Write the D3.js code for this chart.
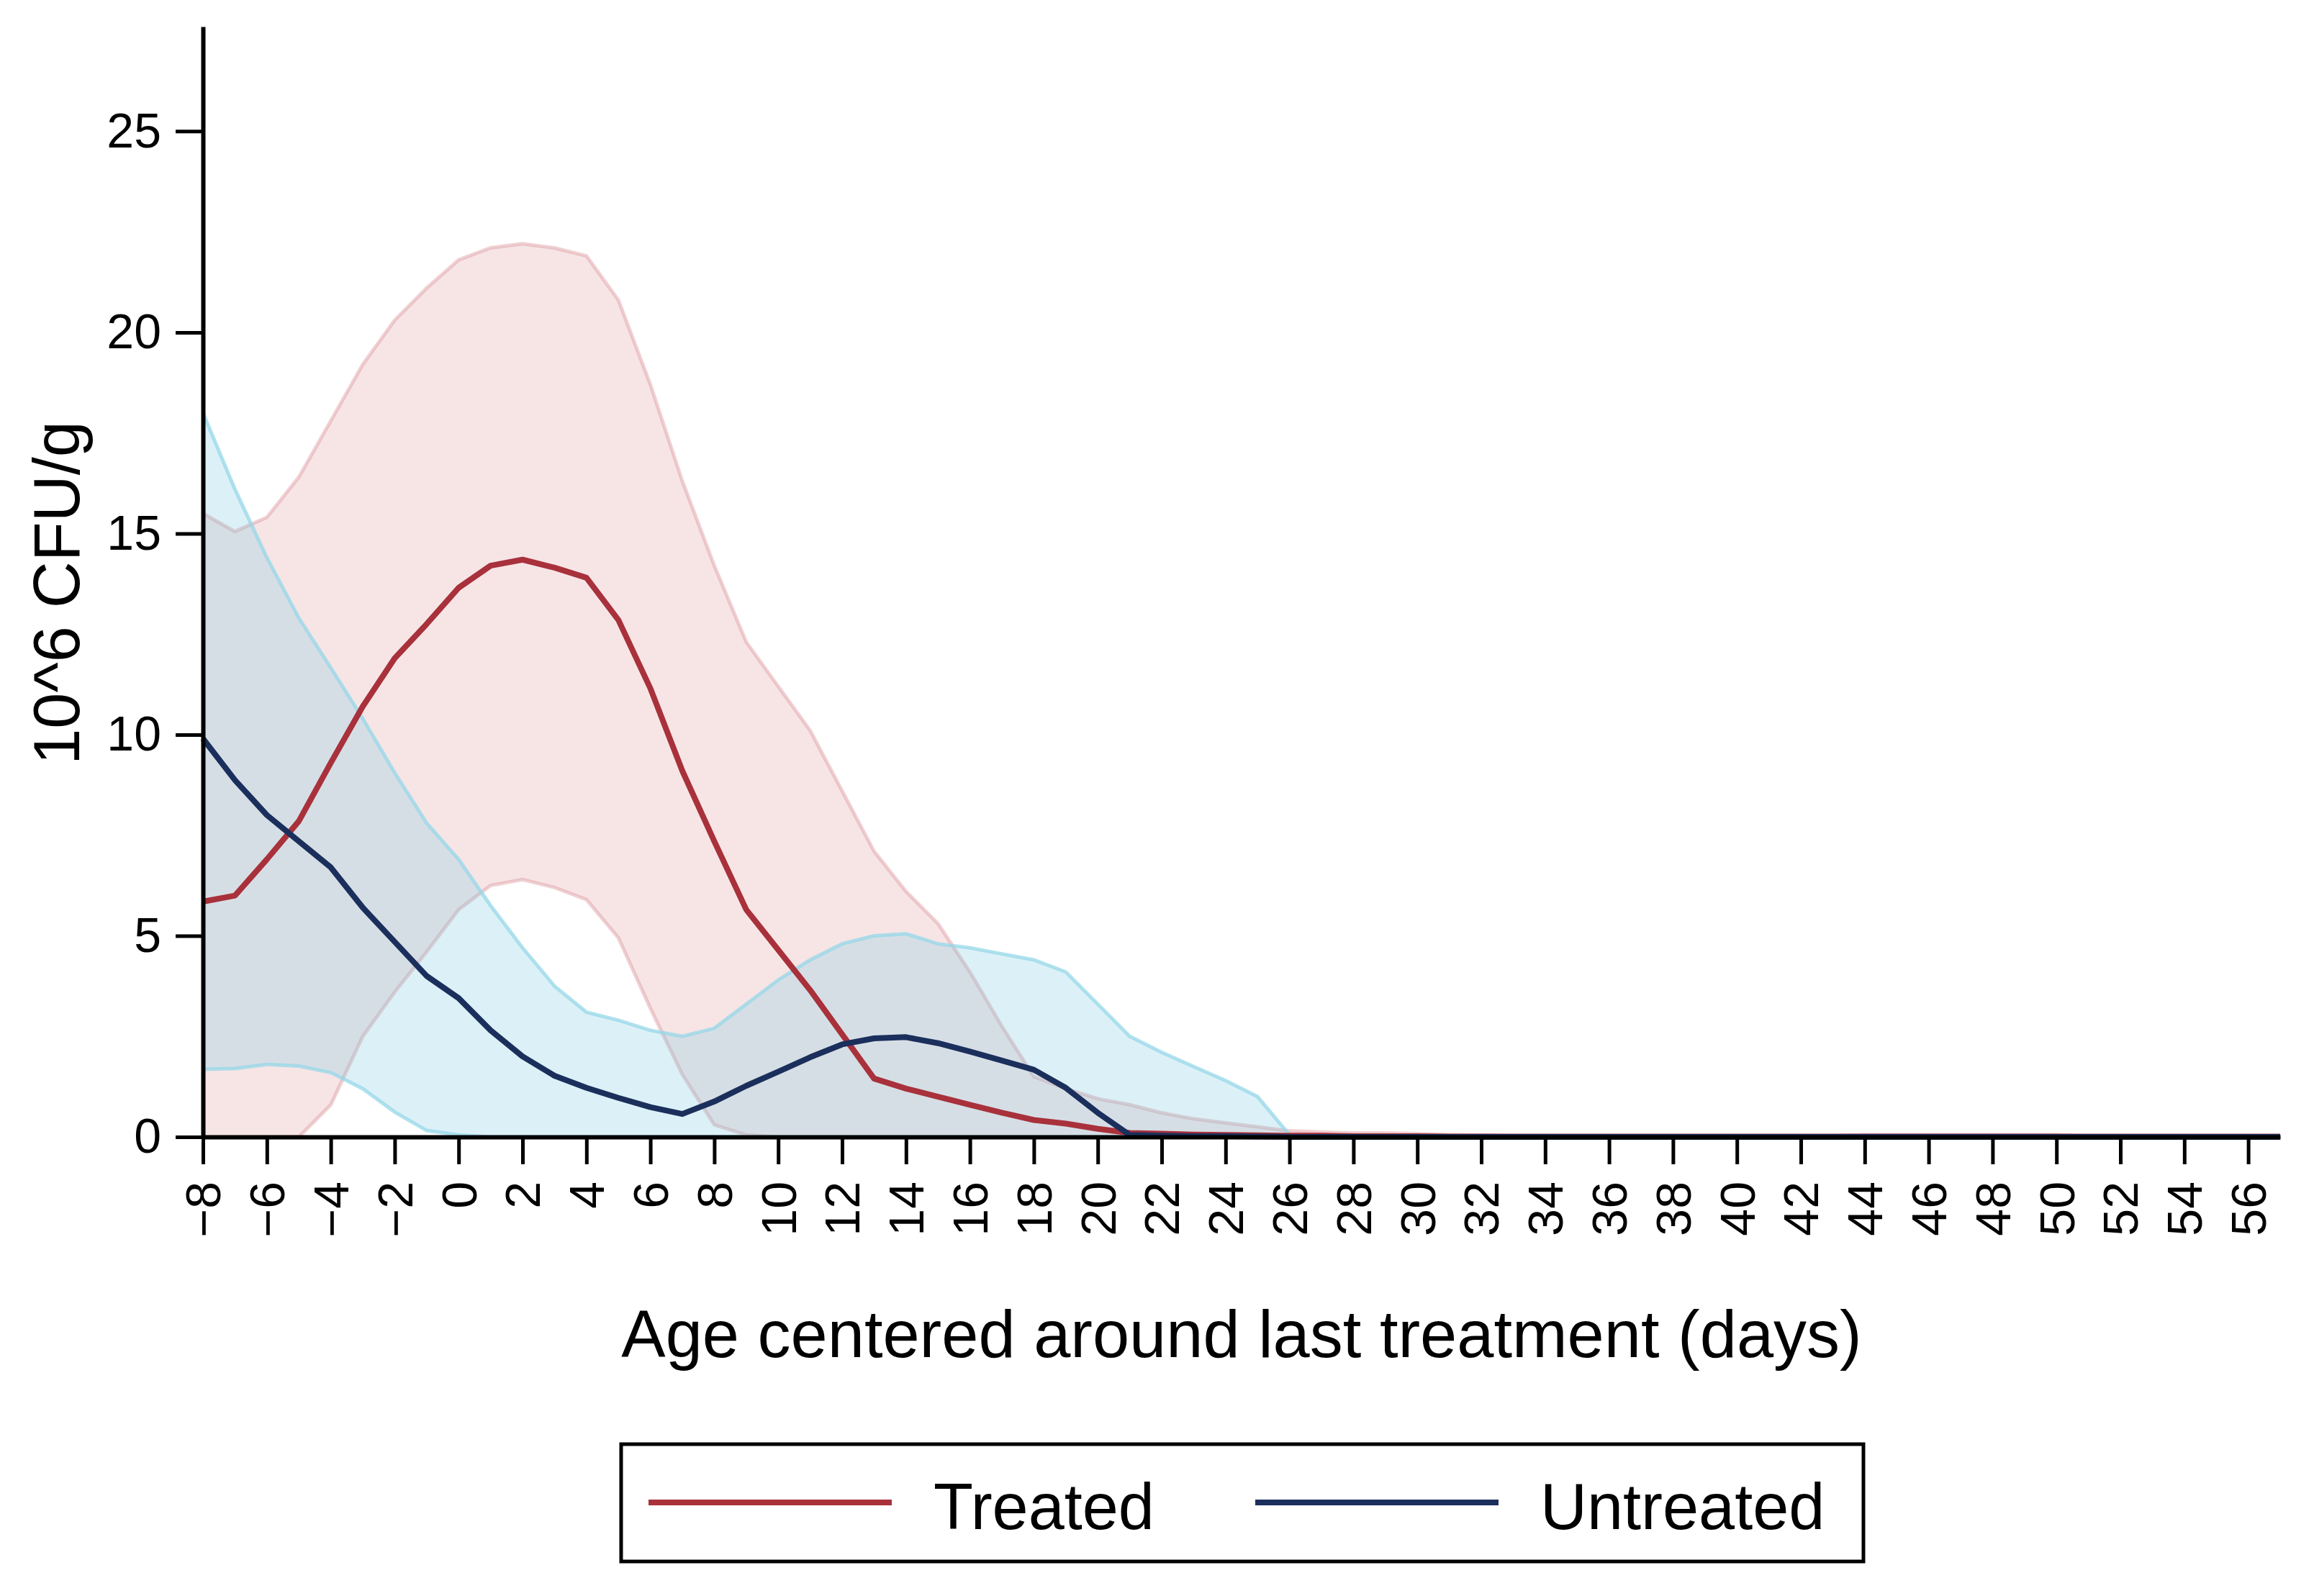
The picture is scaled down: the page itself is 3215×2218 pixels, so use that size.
<!DOCTYPE html>
<html lang="en">
<head>
<meta charset="UTF-8">
<title>CFU by age centered around last treatment</title>
<script src="https://cdn.jsdelivr.net/npm/d3@7/dist/d3.min.js"></script>
<style>
  * { margin: 0; padding: 0; box-sizing: border-box; }
  body { background: #fff; }
  svg { display: block; font-family: 'Liberation Sans', Arial, sans-serif; }
</style>
</head>
<body>
<div id="chart"></div>
<script>
// ─── Data ───────────────────────────────────────────────────────────────────
const days = [-8, -7, -6, -5, -4, -3, -2, -1, 0, 1, 2, 3, 4, 5, 6, 7, 8, 9, 10, 11, 12,
  13, 14, 15, 16, 17, 18, 19, 20, 21, 22, 23, 24, 25, 26, 27, 28, 29, 30, 31, 32, 33, 34,
  35, 36, 37, 38, 39, 40, 41, 42, 43, 44, 45, 46, 47, 48, 49, 50, 51, 52, 53, 54, 55, 56, 57];

const treatedMean = [5.85, 6.0, 6.9, 7.85, 9.3, 10.7, 11.9, 12.75, 13.65, 14.2, 14.35, 14.15,
  13.9, 12.85, 11.15, 9.1, 7.35, 5.65, 4.65, 3.65, 2.55, 1.45, 1.2, 1.0, 0.8, 0.6, 0.42,
  0.33, 0.2, 0.1, 0.08, 0.06, 0.05, 0.04, 0.03, 0.03, 0.02, 0.02, 0.02, 0.01, 0.01, 0.01,
  0.01, 0.01, 0.01, 0.01, 0.01, 0.01, 0.01, 0.01, 0.01, 0.01, 0.01, 0.01, 0.01, 0.01, 0.01,
  0.01, 0.01, 0.01, 0.01, 0.01, 0.01, 0.01, 0.01, 0.01];
const treatedHi = [15.5, 15.05, 15.4, 16.4, 17.8, 19.2, 20.3, 21.1, 21.8, 22.1, 22.2, 22.1,
  21.9, 20.8, 18.7, 16.3, 14.2, 12.3, 11.2, 10.1, 8.6, 7.1, 6.1, 5.3, 4.1, 2.75, 1.5, 1.2,
  0.95, 0.8, 0.6, 0.45, 0.35, 0.25, 0.15, 0.12, 0.1, 0.1, 0.08, 0.06, 0.05, 0.03, 0.03,
  0.03, 0.03, 0.03, 0.03, 0.03, 0.03, 0.03, 0.03, 0.03, 0.06, 0.06, 0.06, 0.06, 0.06, 0.06,
  0.06, 0.02, 0.02, 0.02, 0.02, 0.02, 0.02, 0.02];
const treatedLo = [0, 0, 0, 0, 0.8, 2.5, 3.6, 4.6, 5.65, 6.25, 6.4, 6.2, 5.9, 4.95, 3.2, 1.55,
  0.3, 0.05, 0, 0, 0, 0, 0, 0, 0, 0, 0, 0, 0, 0, 0, 0, 0, 0, 0, 0, 0, 0, 0, 0, 0, 0, 0, 0,
  0, 0, 0, 0, 0, 0, 0, 0, 0, 0, 0, 0, 0, 0, 0, 0, 0, 0, 0, 0, 0, 0];

const untreatedMean = [9.9, 8.87, 8.0, 7.35, 6.7, 5.7, 4.85, 4.0, 3.45, 2.65, 2.0, 1.52, 1.22,
  0.97, 0.74, 0.57, 0.88, 1.27, 1.62, 1.98, 2.3, 2.45, 2.48, 2.33, 2.12, 1.9, 1.67, 1.22,
  0.6, 0.05, 0.03, 0.02, 0.02, 0.01, 0, 0, 0, 0, 0, 0, 0, 0, 0, 0, 0, 0, 0, 0, 0, 0, 0, 0,
  0, 0, 0, 0, 0, 0, 0, 0, 0, 0, 0, 0, 0, 0];
const untreatedHi = [18.0, 16.1, 14.4, 12.9, 11.66, 10.4, 9.05, 7.8, 6.9, 5.75, 4.7, 3.75, 3.1,
  2.9, 2.65, 2.5, 2.7, 3.3, 3.9, 4.4, 4.8, 5.0, 5.05, 4.8, 4.7, 4.55, 4.4, 4.1, 3.3, 2.5,
  2.1, 1.75, 1.4, 1.0, 0.05, 0.02, 0.02, 0.02, 0, 0, 0, 0, 0, 0, 0, 0, 0, 0, 0, 0, 0, 0, 0,
  0, 0, 0, 0, 0, 0, 0, 0, 0, 0, 0, 0, 0];
const untreatedLo = [1.68, 1.7, 1.8, 1.76, 1.6, 1.2, 0.62, 0.16, 0.05, 0, 0, 0, 0, 0, 0, 0, 0,
  0, 0, 0, 0, 0, 0, 0, 0, 0, 0, 0, 0, 0, 0, 0, 0, 0, 0, 0, 0, 0, 0, 0, 0, 0, 0, 0, 0, 0, 0,
  0, 0, 0, 0, 0, 0, 0, 0, 0, 0, 0, 0, 0, 0, 0, 0, 0, 0, 0];

const xTicks = [-8, -6, -4, -2, 0, 2, 4, 6, 8, 10, 12, 14, 16, 18, 20, 22, 24, 26, 28, 30,
  32, 34, 36, 38, 40, 42, 44, 46, 48, 50, 52, 54, 56];
const yTicks = [0, 5, 10, 15, 20, 25];

const series = [
  { name: 'Treated',   mean: treatedMean,   lo: treatedLo,   hi: treatedHi,
    line: '#a8313b', fill: 'rgba(205,92,102,0.16)', edge: 'rgba(220,150,158,0.45)' },
  { name: 'Untreated', mean: untreatedMean, lo: untreatedLo, hi: untreatedHi,
    line: '#1b2f5c', fill: 'rgba(127,205,225,0.27)', edge: 'rgba(150,215,232,0.75)' },
];

// ─── Layout ──────────────────────────────────────────────────────────────────
const W = 3215, H = 2218;
const plot = { left: 282, right: 3168, top: 37, bottom: 1580 };

const svg = d3.select('#chart').append('svg')
  .attr('width', W).attr('height', H)
  .attr('viewBox', `0 0 ${W} ${H}`);

const x = d3.scaleLinear().domain([-8, 57]).range([plot.left, plot.right]);
const y = d3.scaleLinear().domain([0, 27.6]).range([plot.bottom, plot.top]);

// ─── Bands + lines ───────────────────────────────────────────────────────────
const area = d3.area()
  .x((d, i) => x(days[i]))
  .y0(d => y(d[0]))
  .y1(d => y(d[1]));

const line = d3.line()
  .x((d, i) => x(days[i]))
  .y(d => y(d));

for (const s of series) {
  const band = s.lo.map((v, i) => [v, s.hi[i]]);
  svg.append('path')
    .attr('d', area(band))
    .attr('fill', s.fill)
    .attr('stroke', 'none');
  svg.append('path')
    .attr('d', line(s.hi))
    .attr('fill', 'none').attr('stroke', s.edge).attr('stroke-width', 5);
  svg.append('path')
    .attr('d', line(s.lo))
    .attr('fill', 'none').attr('stroke', s.edge).attr('stroke-width', 5);
}

for (const s of series) {
  svg.append('path')
    .attr('d', line(s.mean))
    .attr('fill', 'none')
    .attr('stroke', s.line)
    .attr('stroke-width', 8)
    .attr('stroke-linejoin', 'round');
}

// ─── Axes ────────────────────────────────────────────────────────────────────
const yAxis = svg.append('g')
  .attr('transform', `translate(${plot.left},0)`)
  .call(d3.axisLeft(y).tickValues(yTicks).tickSize(38).tickSizeOuter(0).tickPadding(20));

const xAxis = svg.append('g')
  .attr('transform', `translate(0,${plot.bottom})`)
  .call(d3.axisBottom(x).tickValues(xTicks).tickSize(38).tickSizeOuter(0));

for (const g of [xAxis, yAxis]) {
  g.select('.domain').attr('stroke', '#000').attr('stroke-width', 6);
  g.selectAll('.tick line').attr('stroke', '#000').attr('stroke-width', 5);
  g.selectAll('.tick text')
    .attr('fill', '#000')
    .style('font-size', '68px')
    .style('font-family', "'Liberation Sans', Arial, sans-serif");
}

xAxis.selectAll('.tick text')
  .attr('transform', 'rotate(-90)')
  .attr('text-anchor', 'end')
  .attr('x', -62)
  .attr('y', 0)
  .attr('dy', '0.35em');

// axis titles
svg.append('text')
  .attr('x', 1725).attr('y', 1886)
  .attr('text-anchor', 'middle')
  .style('font-size', '92px')
  .text('Age centered around last treatment (days)');

svg.append('text')
  .attr('transform', 'translate(110,824) rotate(-90)')
  .attr('text-anchor', 'middle')
  .style('font-size', '90px')
  .text('10^6 CFU/g');

// ─── Legend ──────────────────────────────────────────────────────────────────
const legend = svg.append('g');
legend.append('rect')
  .attr('x', 863).attr('y', 2007)
  .attr('width', 1726).attr('height', 163)
  .attr('fill', '#fff').attr('stroke', '#000').attr('stroke-width', 5);

const legendX = [901, 1744];
series.forEach((s, i) => {
  legend.append('line')
    .attr('x1', legendX[i]).attr('x2', legendX[i] + 338)
    .attr('y1', 2088).attr('y2', 2088)
    .attr('stroke', s.line).attr('stroke-width', 8);
  legend.append('text')
    .attr('x', legendX[i] + 396).attr('y', 2125)
    .style('font-size', '90px')
    .text(s.name);
});
</script>
</body>
</html>
